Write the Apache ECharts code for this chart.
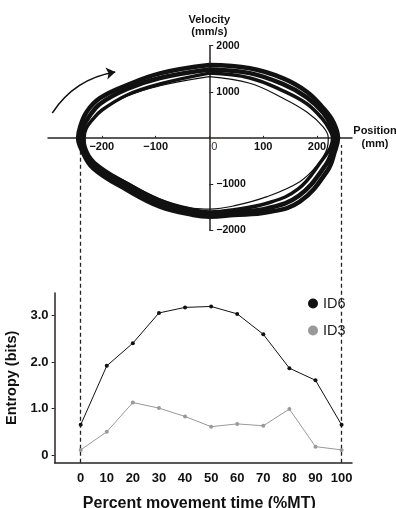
<!DOCTYPE html>
<html>
<head>
<meta charset="utf-8">
<script src="https://cdn.jsdelivr.net/npm/echarts@6/dist/echarts.min.js"></script>
<style>
  html, body { margin: 0; padding: 0; background: #fff; }
  #main { width: 396px; height: 508px; }
</style>
</head>
<body>
<div id="main"></div>
<script>
// phase plane: position (mm) vs velocity (mm/s), several cycles traced by hand
var posTicks = [-200, -100, 0, 100, 200];
var velTicks = [-2000, -1000, 1000, 2000];

var loopA = [[0,1580],[75,1509],[137,1292],[181,1001],[212,641],[230,350],[239,0],[233,-300],[220,-700],[168,-1385],[107,-1616],[45,-1674],[1,-1710],[-30,-1674],[-92,-1493],[-153,-1131],[-216,-661],[-238,-250],[-244,0],[-240,250],[-228,567],[-203,865],[-153,1145],[-92,1400],[0,1580]];
var loopB = [[0,1485],[75,1405],[137,1165],[181,880],[212,540],[228,220],[234,0],[229,-260],[215,-610],[166,-1260],[107,-1530],[45,-1610],[1,-1660],[-30,-1620],[-92,-1430],[-153,-1060],[-216,-610],[-235,-230],[-239,0],[-235,230],[-225,440],[-203,740],[-153,1060],[-92,1300],[0,1485]];
var loopC = [[0,1405],[75,1300],[137,1020],[181,740],[210,410],[224,160],[229,0],[225,-210],[211,-460],[165,-1110],[107,-1420],[45,-1560],[1,-1610],[-30,-1560],[-92,-1350],[-153,-990],[-213,-540],[-231,-200],[-233,0],[-229,210],[-217,400],[-200,600],[-153,930],[-92,1170],[0,1405]];
var loopD = [[0,1327],[75,1184],[137,858],[181,560],[211,242],[221,0],[219,-220],[200,-600],[168,-951],[107,-1276],[45,-1478],[1,-1545],[-30,-1530],[-92,-1330],[-153,-960],[-216,-530],[-234,-150],[-236,0],[-228,200],[-203,560],[-153,910],[-92,1130],[0,1327]];

var arrowPath = [[-292, 539], [-175, 1428]];

// entropy over the movement
var pctMT = [0, 10, 20, 30, 40, 50, 60, 70, 80, 90, 100];
var id6 = [0.65, 1.92, 2.41, 3.06, 3.18, 3.2, 3.04, 2.6, 1.87, 1.61, 0.65];
var id3 = [0.11, 0.5, 1.13, 1.01, 0.83, 0.61, 0.67, 0.63, 0.99, 0.18, 0.11];
var entropyTicks = [0, 1, 2, 3];
var guideX = [0, 100];

var font = 'Liberation Sans';
var axisColor = '#2a2322';

function pairs(xs, ys) {
    var out = [];
    for (var i = 0; i < xs.length; i++) {
        out.push([xs[i], ys[i]]);
    }
    return out;
}

function loopSeries(data, width) {
    return {
        type: 'line',
        xAxisIndex: 0,
        yAxisIndex: 0,
        data: data,
        smooth: 0.4,
        symbol: 'none',
        silent: true,
        lineStyle: { color: '#111', width: width }
    };
}

var myChart = echarts.init(document.getElementById('main'));

var option = {
    animation: false,
    textStyle: { fontFamily: font },
    grid: [
        { left: 48, right: 44, top: 45.7, bottom: 278, outerBoundsMode: 'none' },
        { left: 54.6, right: 44, top: 293, bottom: 45.3, outerBoundsMode: 'none' },
        { left: 54.6, right: 44, top: 145, bottom: 45.3, outerBoundsMode: 'none' }
    ],
    legend: {
        data: ['ID6', 'ID3'],
        orient: 'vertical',
        left: 303,
        top: 291,
        icon: 'circle',
        itemWidth: 10,
        itemHeight: 10,
        itemGap: 12,
        textStyle: { fontSize: 14.5, color: '#222', fontFamily: font }
    },
    xAxis: [
        {
            gridIndex: 0,
            type: 'value',
            min: -300,
            max: 265,
            offset: -92.15,   // put the axis through velocity 0
            name: 'Position\n(mm)',
            nameLocation: 'end',
            nameGap: 23,
            nameTextStyle: { align: 'center', fontWeight: 'bold', fontSize: 11, lineHeight: 13, color: '#111' },
            axisLine: { onZero: false, lineStyle: { color: axisColor, width: 1.5 } },
            axisTick: { customValues: posTicks, inside: true, length: 2, lineStyle: { color: axisColor } },
            splitLine: { show: false },
            axisLabel: {
                customValues: posTicks,
                margin: 4,
                fontWeight: 'bold',
                fontSize: 11,
                color: '#111',
                formatter: function (v) {
                    if (v === 0) return '{z|0}';
                    return String(v).replace('-', '\u2212');
                },
                rich: { z: { fontWeight: 'normal', fontSize: 11, color: '#333', padding: [0, 0, 0, 10] } }
            }
        },
        {
            gridIndex: 1,
            type: 'value',
            min: -10,
            max: 104,
            name: 'Percent movement time (%MT)',
            nameLocation: 'middle',
            nameGap: 33,
            nameTextStyle: { fontWeight: 'bold', fontSize: 16, color: '#111', padding: [0, 8, 0, 0] },
            axisLine: { onZero: false, lineStyle: { color: axisColor, width: 1.5 } },
            axisTick: { show: false },
            splitLine: { show: false },
            axisLabel: {
                customValues: pctMT,
                margin: 9,
                fontWeight: 'bold',
                fontSize: 13,
                color: '#111'
            }
        },
        { gridIndex: 2, type: 'value', min: -10, max: 104, show: false }
    ],
    yAxis: [
        {
            gridIndex: 0,
            type: 'value',
            min: -2000,
            max: 2000,
            offset: -161.3,   // put the axis through position 0
            name: 'Velocity\n(mm/s)',
            nameLocation: 'end',
            nameGap: 8,
            nameTextStyle: { align: 'center', fontWeight: 'bold', fontSize: 11, lineHeight: 12, color: '#111' },
            axisLine: { onZero: false, lineStyle: { color: axisColor, width: 1.5 } },
            axisTick: { customValues: velTicks, inside: true, length: 4, lineStyle: { color: axisColor } },
            splitLine: { show: false },
            axisLabel: {
                customValues: velTicks,
                inside: true,
                margin: 7,
                fontWeight: 'bold',
                fontSize: 10.5,
                color: '#111',
                formatter: function (v) { return String(v).replace('-', '\u2212'); }
            }
        },
        {
            gridIndex: 1,
            type: 'value',
            min: -0.166,
            max: 3.49,
            name: 'Entropy (bits)',
            nameLocation: 'middle',
            nameRotate: 90,
            nameGap: 31,
            nameTextStyle: { fontWeight: 'bold', fontSize: 14.5, color: '#111' },
            axisLine: { show: true, onZero: false, lineStyle: { color: axisColor, width: 1.5 } },
            axisTick: { show: true, customValues: entropyTicks, length: 3, lineStyle: { color: axisColor } },
            splitLine: { show: false },
            axisLabel: {
                customValues: entropyTicks,
                margin: 6,
                fontWeight: 'bold',
                fontSize: 13,
                color: '#111',
                formatter: function (v) { return v === 0 ? '0' : v.toFixed(1); }
            }
        },
        { gridIndex: 2, type: 'value', min: 0, max: 1, show: false }
    ],
    series: [
        loopSeries(loopA, 4.5),
        loopSeries(loopB, 4.5),
        loopSeries(loopC, 3.5),
        loopSeries(loopD, 1.2),
        {
            type: 'lines',
            coordinateSystem: 'cartesian2d',
            xAxisIndex: 0,
            yAxisIndex: 0,
            silent: true,
            symbol: ['none', 'arrow'],
            symbolSize: 9,
            lineStyle: { color: '#111', width: 1.5, curveness: 0.22, opacity: 1 },
            data: [{ coords: arrowPath }]
        },
        {
            type: 'lines',
            coordinateSystem: 'cartesian2d',
            xAxisIndex: 2,
            yAxisIndex: 2,
            silent: true,
            z: 1,
            lineStyle: { color: '#222', width: 1.3, type: [4, 3], opacity: 1 },
            data: guideX.map(function (x) { return { coords: [[x, 0], [x, 1]] }; })
        },
        {
            name: 'ID6',
            type: 'line',
            xAxisIndex: 1,
            yAxisIndex: 1,
            data: pairs(pctMT, id6),
            symbol: 'circle',
            symbolSize: 4,
            z: 3,
            itemStyle: { color: '#111' },
            lineStyle: { color: '#111', width: 1 }
        },
        {
            name: 'ID3',
            type: 'line',
            xAxisIndex: 1,
            yAxisIndex: 1,
            data: pairs(pctMT, id3),
            symbol: 'circle',
            symbolSize: 4,
            z: 3,
            itemStyle: { color: '#999' },
            lineStyle: { color: '#999', width: 1 }
        }
    ]
};

myChart.setOption(option);
</script>
</body>
</html>
